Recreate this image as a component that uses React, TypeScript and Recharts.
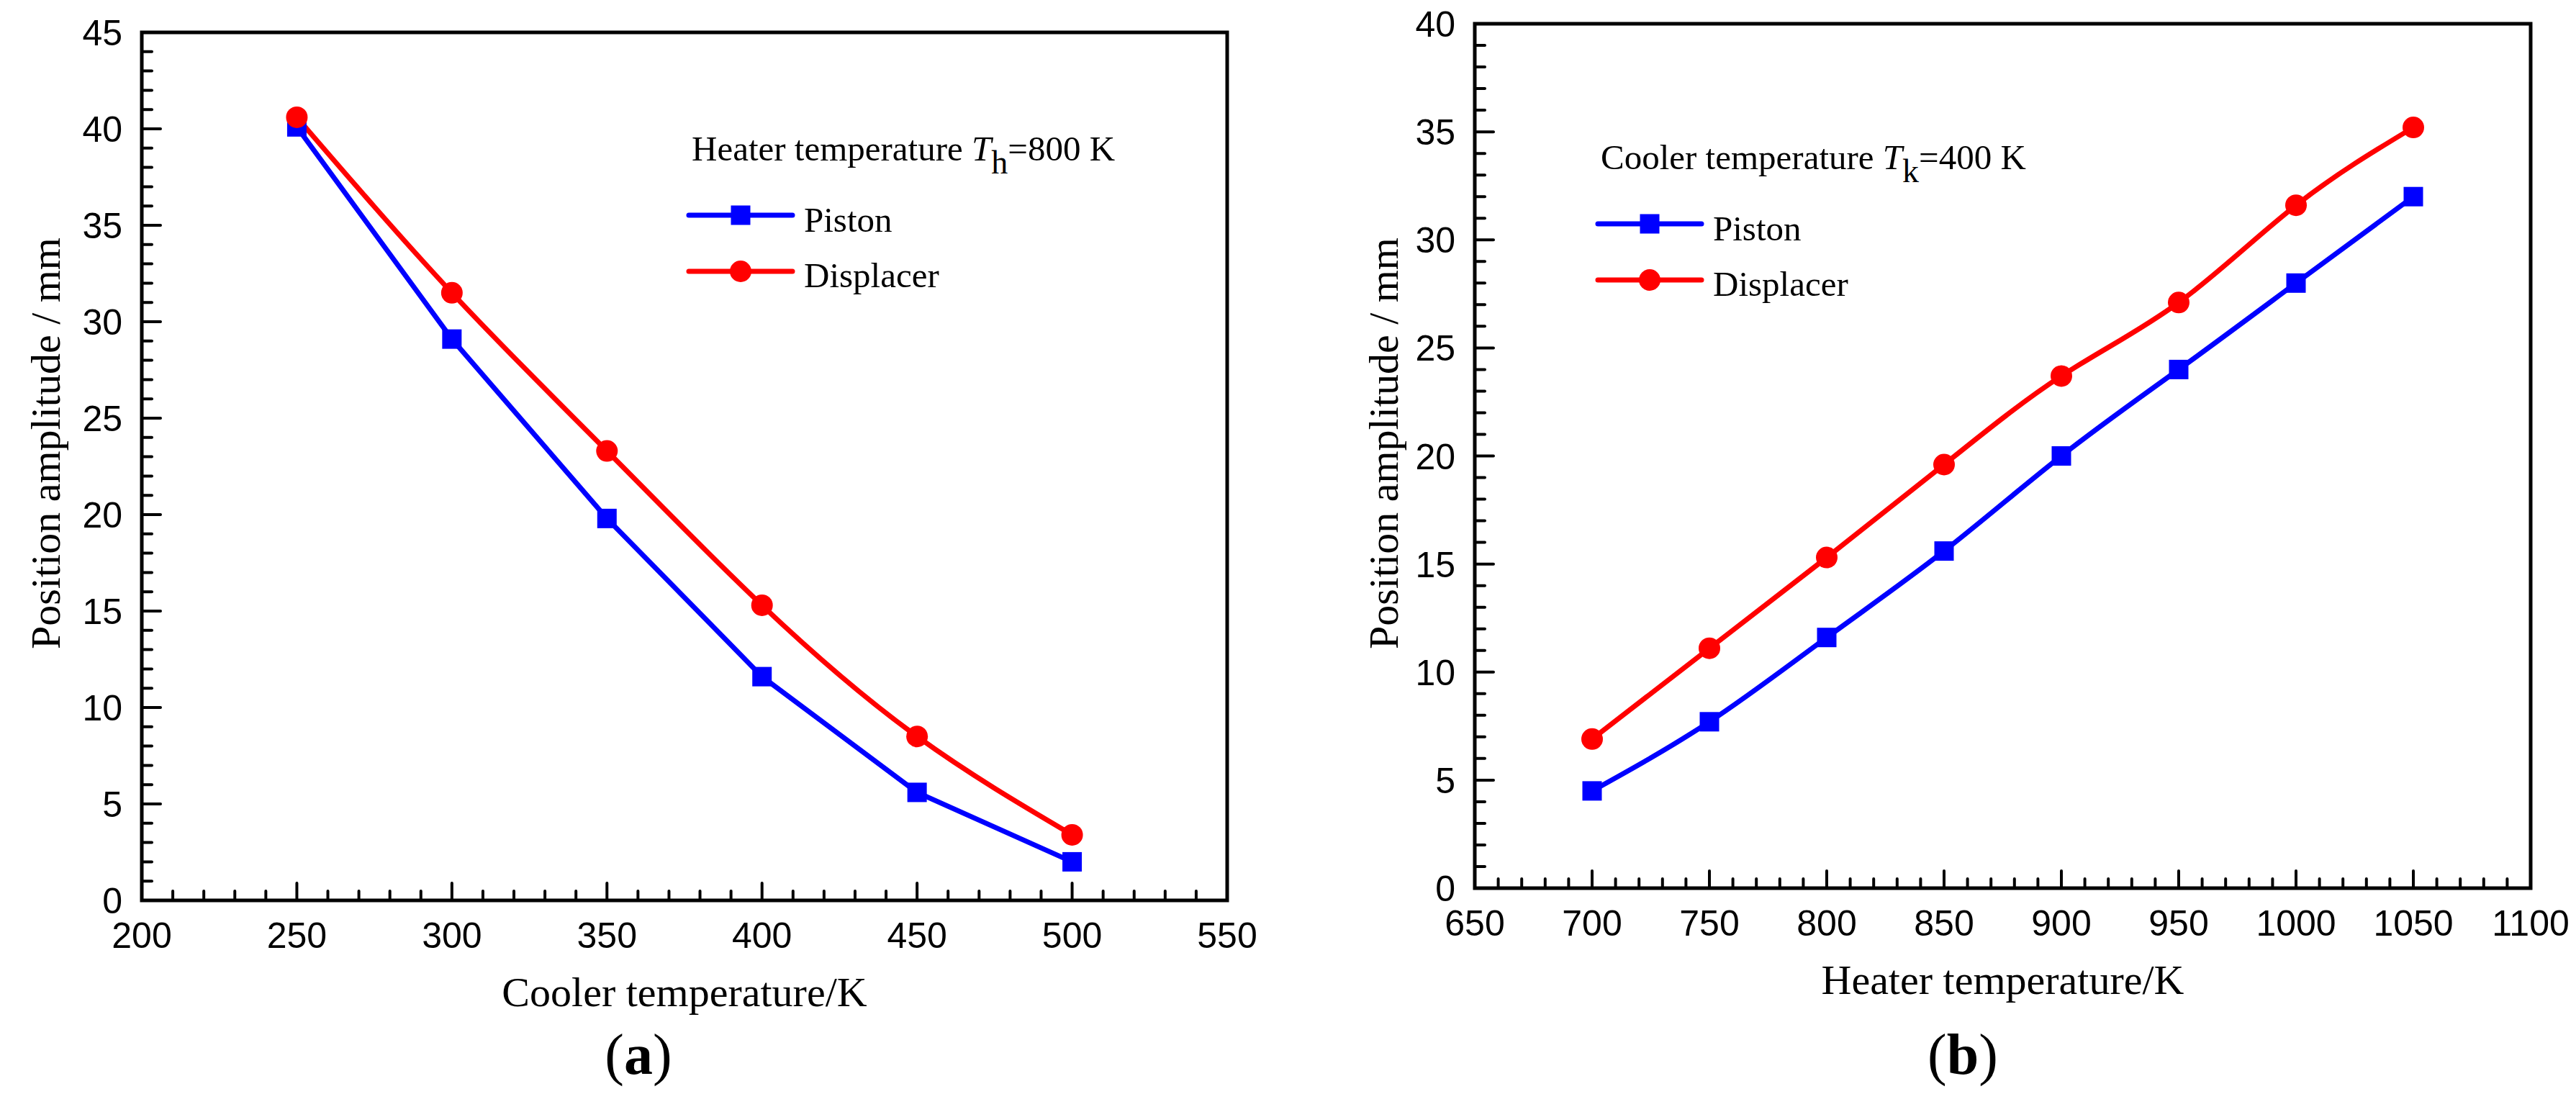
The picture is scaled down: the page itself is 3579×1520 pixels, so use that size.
import React from 'react'
import { LineChart, Line, XAxis, YAxis, ReferenceArea, Legend } from 'recharts'

// (a) heater fixed at 800 K, cooler temperature varies
const coolerTemps = [250, 300, 350, 400, 450, 500]
const pistonA = [40.1, 29.1, 19.8, 11.6, 5.6, 2.0]
const displacerA = [40.6, 31.5, 23.3, 15.3, 8.5, 3.4]

// (b) cooler fixed at 400 K, heater temperature varies
const heaterTemps = [700, 750, 800, 850, 900, 950, 1000, 1050]
const pistonB = [4.5, 7.7, 11.6, 15.6, 20.0, 24.0, 28.0, 32.0]
const displacerB = [6.9, 11.1, 15.3, 19.6, 23.7, 27.1, 31.6, 35.2]

const xTicksA = [200, 250, 300, 350, 400, 450, 500, 550]
const yTicksA = [0, 5, 10, 15, 20, 25, 30, 35, 40, 45]
const xTicksB = [650, 700, 750, 800, 850, 900, 950, 1000, 1050, 1100]
const yTicksB = [0, 5, 10, 15, 20, 25, 30, 35, 40]

const SANS = 'Liberation Sans, Arial, sans-serif'
const SERIF = 'Liberation Serif, Times New Roman, serif'
const BLUE = '#0000FF'
const RED = '#FF0000'

// major ticks split into 5 parts each -> minor ticks
function withMinor(majors: number[]) {
  const out: number[] = []
  for (let i = 0; i < majors.length - 1; i++) {
    const step = (majors[i + 1] - majors[i]) / 5
    for (let k = 0; k < 5; k++) out.push(majors[i] + k * step)
  }
  out.push(majors[majors.length - 1])
  return out
}

const XTick = ({ x, y, payload, majors }: any) => {
  const major = majors.includes(payload.value)
  return (
    <g>
      <line x1={x} y1={y} x2={x} y2={y - (major ? 24 : 13)} stroke="#000" strokeWidth={4} strokeLinecap="round" />
      {major && (
        <text x={x} y={y + 66} textAnchor="middle" fontFamily={SANS} fontSize={50} fill="#000">
          {payload.value}
        </text>
      )}
    </g>
  )
}

const YTick = ({ x, y, payload, majors }: any) => {
  const major = majors.includes(payload.value)
  return (
    <g>
      <line x1={x} y1={y} x2={x + (major ? 26 : 14)} y2={y} stroke="#000" strokeWidth={4} strokeLinecap="round" />
      {major && (
        <text x={x - 27} y={y + 18} textAnchor="end" fontFamily={SANS} fontSize={50} fill="#000">
          {payload.value}
        </text>
      )}
    </g>
  )
}

const squareDot = (props: any) => (
  <rect key={`sq-${props.index}`} x={props.cx - 13.5} y={props.cy - 13.5} width={27} height={27} fill={BLUE} />
)
const circleDot = (props: any) => (
  <circle key={`ci-${props.index}`} cx={props.cx} cy={props.cy} r={15} fill={RED} />
)

interface PanelProps {
  left: number
  width: number
  plot: { left: number; top: number; right: number; bottom: number }
  xs: number[]
  piston: number[]
  displacer: number[]
  xTicks: number[]
  yTicks: number[]
  xTitle: string
  xTitleY: number
  yTitleX: number
  legendPos: { left: number; top: number }
  legendText: string
  legendSub: string
  legendValue: string
  pistonType: 'linear' | 'natural'
  tag: string
  tagX: number
}

function Panel(p: PanelProps) {
  const H = 1520
  const data = p.xs.map((x, i) => ({ x, piston: p.piston[i], displacer: p.displacer[i] }))
  const xMin = p.xTicks[0]
  const xMax = p.xTicks[p.xTicks.length - 1]
  const yMin = p.yTicks[0]
  const yMax = p.yTicks[p.yTicks.length - 1]
  const plotCenterX = (p.plot.left + p.plot.right) / 2

  return (
    <div style={{ position: 'absolute', left: p.left, top: 0, width: p.width, height: H }}>
      <LineChart
        width={p.width}
        height={H}
        data={data}
        margin={{ top: p.plot.top, left: p.plot.left - 100, right: p.width - p.plot.right, bottom: H - p.plot.bottom - 100 }}
      >
        <XAxis
          type="number"
          dataKey="x"
          domain={[xMin, xMax]}
          ticks={withMinor(p.xTicks)}
          interval={0}
          height={100}
          axisLine={false}
          tickLine={false}
          tickSize={0}
          tickMargin={0}
          tick={(t: any) => <XTick {...t} majors={p.xTicks} />}
          label={() => (
            <text x={plotCenterX} y={p.xTitleY} textAnchor="middle" fontFamily={SERIF} fontSize={58} fill="#000">
              {p.xTitle}
            </text>
          )}
        />
        <YAxis
          type="number"
          domain={[yMin, yMax]}
          ticks={withMinor(p.yTicks)}
          interval={0}
          width={100}
          axisLine={false}
          tickLine={false}
          tickSize={0}
          tickMargin={0}
          tick={(t: any) => <YTick {...t} majors={p.yTicks} />}
          label={() => (
            <text
              transform={`translate(${p.yTitleX}, 330) rotate(-90)`}
              textAnchor="end"
              fontFamily={SERIF}
              fontSize={58}
              fill="#000"
            >
              Position amplitude / mm
            </text>
          )}
        />
        <ReferenceArea
          x1={xMin}
          x2={xMax}
          y1={yMin}
          y2={yMax}
          fill="none"
          stroke="#000"
          strokeWidth={5}
          ifOverflow="visible"
        />
        <Line
          type={p.pistonType}
          dataKey="piston"
          stroke={BLUE}
          strokeWidth={7}
          dot={squareDot}
          activeDot={false}
          isAnimationActive={false}
        />
        <Line
          type="natural"
          dataKey="displacer"
          stroke={RED}
          strokeWidth={7}
          dot={circleDot}
          activeDot={false}
          isAnimationActive={false}
        />
        <Legend
          layout="horizontal"
          verticalAlign="middle"
          align="center"
          wrapperStyle={{ left: p.legendPos.left, top: p.legendPos.top, width: 760, height: 270 }}
          content={() => (
            <svg width={760} height={270} style={{ display: 'block' }}>
              <text x={24} y={64} fontFamily={SERIF} fontSize={49} fill="#000">
                <tspan>{p.legendText} </tspan>
                <tspan fontStyle="italic">T</tspan>
                <tspan dy={18} fontSize={46}>{p.legendSub}</tspan>
                <tspan dy={-18}>{p.legendValue}</tspan>
              </text>
              <line x1={20} y1={140} x2={164} y2={140} stroke={BLUE} strokeWidth={7} strokeLinecap="round" />
              <rect x={78.5} y={126.5} width={27} height={27} fill={BLUE} />
              <text x={180} y={163} fontFamily={SERIF} fontSize={49} fill="#000">Piston</text>
              <line x1={20} y1={218} x2={164} y2={218} stroke={RED} strokeWidth={7} strokeLinecap="round" />
              <circle cx={92} cy={218} r={15} fill={RED} />
              <text x={180} y={240} fontFamily={SERIF} fontSize={49} fill="#000">Displacer</text>
            </svg>
          )}
        />
      </LineChart>
      <svg style={{ position: 'absolute', left: 0, top: 0, pointerEvents: 'none' }} width={p.width} height={H}>
        <text x={p.tagX} y={1492} textAnchor="middle" fontFamily={SERIF} fontSize={80} fill="#000">
          <tspan>(</tspan>
          <tspan fontWeight="bold">{p.tag}</tspan>
          <tspan>)</tspan>
        </text>
      </svg>
    </div>
  )
}

export default function App() {
  return (
    <div style={{ position: 'absolute', left: 0, top: 0, width: 3579, height: 1520, background: '#fff', overflow: 'hidden' }}>
      <Panel
        left={0}
        width={1790}
        plot={{ left: 197, top: 45, right: 1705, bottom: 1251 }}
        xs={coolerTemps}
        piston={pistonA}
        displacer={displacerA}
        xTicks={xTicksA}
        yTicks={yTicksA}
        xTitle="Cooler temperature/K"
        xTitleY={1398}
        yTitleX={83}
        legendPos={{ left: 937, top: 159 }}
        legendText="Heater temperature"
        legendSub="h"
        legendValue="=800 K"
        pistonType="linear"
        tag="a"
        tagX={887}
      />
      <Panel
        left={1790}
        width={1789}
        plot={{ left: 259, top: 33, right: 1726, bottom: 1234 }}
        xs={heaterTemps}
        piston={pistonB}
        displacer={displacerB}
        xTicks={xTicksB}
        yTicks={yTicksB}
        xTitle="Heater temperature/K"
        xTitleY={1381}
        yTitleX={152}
        legendPos={{ left: 410, top: 171 }}
        legendText="Cooler temperature"
        legendSub="k"
        legendValue="=400 K"
        pistonType="natural"
        tag="b"
        tagX={937}
      />
    </div>
  )
}
